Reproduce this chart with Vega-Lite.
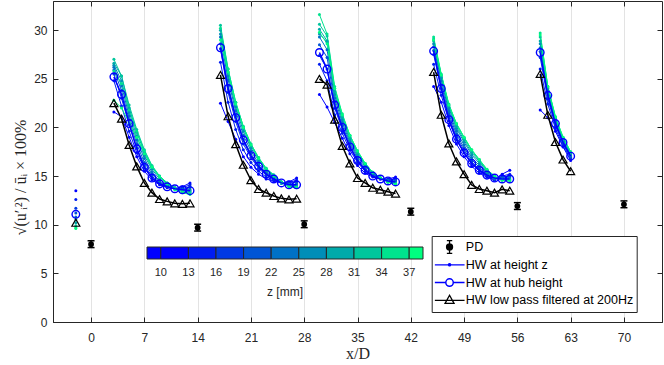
{
  "$schema": "https://vega.github.io/schema/vega-lite/v6.json",
  "width": 609,
  "height": 321,
  "autosize": {"type": "none"},
  "padding": {"left": 53, "top": 1, "right": 2, "bottom": 43},
  "config": {
    "view": {"stroke": "#262626", "strokeWidth": 1},
    "axis": {"domainColor": "#262626", "tickColor": "#262626", "labelColor": "#262626", "labelFont": "Liberation Sans", "labelFontSize": 12, "titleFont": "Liberation Serif", "titleFontWeight": "normal", "titleColor": "#262626", "tickSize": -5, "gridColor": "#e3e3e3", "gridWidth": 1},
    "legend": {"labelFont": "Liberation Sans", "titleFont": "Liberation Sans", "titleFontWeight": "normal", "labelColor": "#262626", "titleColor": "#262626"}
  },
  "datasets": {
    "zl": [
      {"z":10,"s":0,"x":-2,"v":13.5},
      {"z":10,"s":1,"x":3,"v":21.6},{"z":10,"s":1,"x":4,"v":21.1},{"z":10,"s":1,"x":5,"v":19.0},{"z":10,"s":1,"x":6,"v":17.0},{"z":10,"s":1,"x":7,"v":15.5},{"z":10,"s":1,"x":8,"v":14.6},{"z":10,"s":1,"x":9,"v":14.1},{"z":10,"s":1,"x":10,"v":13.8},{"z":10,"s":1,"x":11,"v":13.7},{"z":10,"s":1,"x":12,"v":13.9},{"z":10,"s":1,"x":13,"v":14.3},
      {"z":10,"s":2,"x":17,"v":22.5},{"z":10,"s":2,"x":18,"v":20.6},{"z":10,"s":2,"x":19,"v":18.8},{"z":10,"s":2,"x":20,"v":17.0},{"z":10,"s":2,"x":21,"v":15.9},{"z":10,"s":2,"x":22,"v":15.2},{"z":10,"s":2,"x":23,"v":14.7},{"z":10,"s":2,"x":24,"v":14.5},{"z":10,"s":2,"x":25,"v":14.3},{"z":10,"s":2,"x":26,"v":14.4},{"z":10,"s":2,"x":27,"v":14.8},
      {"z":10,"s":3,"x":30,"v":23.4},{"z":10,"s":3,"x":31,"v":22.1},{"z":10,"s":3,"x":32,"v":20.5},{"z":10,"s":3,"x":33,"v":18.9},{"z":10,"s":3,"x":34,"v":17.3},{"z":10,"s":3,"x":35,"v":16.1},{"z":10,"s":3,"x":36,"v":15.3},{"z":10,"s":3,"x":37,"v":14.9},{"z":10,"s":3,"x":38,"v":14.7},{"z":10,"s":3,"x":39,"v":14.7},{"z":10,"s":3,"x":40,"v":14.9},
      {"z":10,"s":4,"x":45,"v":24.2},{"z":10,"s":4,"x":46,"v":22.6},{"z":10,"s":4,"x":47,"v":20.2},{"z":10,"s":4,"x":48,"v":18.3},{"z":10,"s":4,"x":49,"v":17.0},{"z":10,"s":4,"x":50,"v":16.0},{"z":10,"s":4,"x":51,"v":15.3},{"z":10,"s":4,"x":52,"v":14.9},{"z":10,"s":4,"x":53,"v":14.6},{"z":10,"s":4,"x":54,"v":15.2},{"z":10,"s":4,"x":55,"v":15.6},
      {"z":10,"s":5,"x":59,"v":21.8},{"z":10,"s":5,"x":60,"v":21.0},{"z":10,"s":5,"x":61,"v":19.6},{"z":10,"s":5,"x":62,"v":18.0},{"z":10,"s":5,"x":63,"v":16.6},

      {"z":13,"s":0,"x":-2,"v":12.6},
      {"z":13,"s":1,"x":3,"v":24.8},{"z":13,"s":1,"x":4,"v":22.2},{"z":13,"s":1,"x":5,"v":19.6},{"z":13,"s":1,"x":6,"v":17.4},{"z":13,"s":1,"x":7,"v":15.8},{"z":13,"s":1,"x":8,"v":14.8},{"z":13,"s":1,"x":9,"v":14.2},{"z":13,"s":1,"x":10,"v":13.9},{"z":13,"s":1,"x":11,"v":13.7},{"z":13,"s":1,"x":12,"v":13.8},{"z":13,"s":1,"x":13,"v":14.1},
      {"z":13,"s":2,"x":17,"v":26.7},{"z":13,"s":2,"x":18,"v":22.6},{"z":13,"s":2,"x":19,"v":19.8},{"z":13,"s":2,"x":20,"v":17.7},{"z":13,"s":2,"x":21,"v":16.4},{"z":13,"s":2,"x":22,"v":15.5},{"z":13,"s":2,"x":23,"v":14.9},{"z":13,"s":2,"x":24,"v":14.6},{"z":13,"s":2,"x":25,"v":14.3},{"z":13,"s":2,"x":26,"v":14.3},{"z":13,"s":2,"x":27,"v":14.6},
      {"z":13,"s":3,"x":30,"v":26.5},{"z":13,"s":3,"x":31,"v":24.8},{"z":13,"s":3,"x":32,"v":21.3},{"z":13,"s":3,"x":33,"v":19.4},{"z":13,"s":3,"x":34,"v":17.7},{"z":13,"s":3,"x":35,"v":16.4},{"z":13,"s":3,"x":36,"v":15.5},{"z":13,"s":3,"x":37,"v":15.0},{"z":13,"s":3,"x":38,"v":14.7},{"z":13,"s":3,"x":39,"v":14.6},{"z":13,"s":3,"x":40,"v":14.7},
      {"z":13,"s":4,"x":45,"v":26.5},{"z":13,"s":4,"x":46,"v":23.3},{"z":13,"s":4,"x":47,"v":20.7},{"z":13,"s":4,"x":48,"v":18.7},{"z":13,"s":4,"x":49,"v":17.4},{"z":13,"s":4,"x":50,"v":16.3},{"z":13,"s":4,"x":51,"v":15.5},{"z":13,"s":4,"x":52,"v":15.0},{"z":13,"s":4,"x":53,"v":14.6},{"z":13,"s":4,"x":54,"v":15.0},{"z":13,"s":4,"x":55,"v":15.2},
      {"z":13,"s":5,"x":59,"v":26.0},{"z":13,"s":5,"x":60,"v":22.4},{"z":13,"s":5,"x":61,"v":19.9},{"z":13,"s":5,"x":62,"v":18.1},{"z":13,"s":5,"x":63,"v":16.8},

      {"z":16,"s":0,"x":-2,"v":11.7},
      {"z":16,"s":1,"x":3,"v":25.5},{"z":16,"s":1,"x":4,"v":23.0},{"z":16,"s":1,"x":5,"v":20.3},{"z":16,"s":1,"x":6,"v":17.9},{"z":16,"s":1,"x":7,"v":16.1},{"z":16,"s":1,"x":8,"v":15.0},{"z":16,"s":1,"x":9,"v":14.3},{"z":16,"s":1,"x":10,"v":13.9},{"z":16,"s":1,"x":11,"v":13.7},{"z":16,"s":1,"x":12,"v":13.7},{"z":16,"s":1,"x":13,"v":13.9},
      {"z":16,"s":2,"x":17,"v":28.1},{"z":16,"s":2,"x":18,"v":23.6},{"z":16,"s":2,"x":19,"v":20.6},{"z":16,"s":2,"x":20,"v":18.3},{"z":16,"s":2,"x":21,"v":16.9},{"z":16,"s":2,"x":22,"v":15.8},{"z":16,"s":2,"x":23,"v":15.1},{"z":16,"s":2,"x":24,"v":14.7},{"z":16,"s":2,"x":25,"v":14.3},{"z":16,"s":2,"x":26,"v":14.2},{"z":16,"s":2,"x":27,"v":14.4},
      {"z":16,"s":3,"x":30,"v":27.4},{"z":16,"s":3,"x":31,"v":26.0},{"z":16,"s":3,"x":32,"v":22.0},{"z":16,"s":3,"x":33,"v":19.8},{"z":16,"s":3,"x":34,"v":18.0},{"z":16,"s":3,"x":35,"v":16.6},{"z":16,"s":3,"x":36,"v":15.7},{"z":16,"s":3,"x":37,"v":15.1},{"z":16,"s":3,"x":38,"v":14.8},{"z":16,"s":3,"x":39,"v":14.6},{"z":16,"s":3,"x":40,"v":14.6},
      {"z":16,"s":4,"x":45,"v":27.5},{"z":16,"s":4,"x":46,"v":24.0},{"z":16,"s":4,"x":47,"v":21.1},{"z":16,"s":4,"x":48,"v":19.0},{"z":16,"s":4,"x":49,"v":17.7},{"z":16,"s":4,"x":50,"v":16.5},{"z":16,"s":4,"x":51,"v":15.7},{"z":16,"s":4,"x":52,"v":15.1},{"z":16,"s":4,"x":53,"v":14.7},{"z":16,"s":4,"x":54,"v":14.9},{"z":16,"s":4,"x":55,"v":15.0},
      {"z":16,"s":5,"x":59,"v":27.2},{"z":16,"s":5,"x":60,"v":22.9},{"z":16,"s":5,"x":61,"v":20.2},{"z":16,"s":5,"x":62,"v":18.3},{"z":16,"s":5,"x":63,"v":16.9},

      {"z":19,"s":0,"x":-2,"v":11.2},
      {"z":19,"s":1,"x":3,"v":25.9},{"z":19,"s":1,"x":4,"v":23.8},{"z":19,"s":1,"x":5,"v":20.8},{"z":19,"s":1,"x":6,"v":18.3},{"z":19,"s":1,"x":7,"v":16.4},{"z":19,"s":1,"x":8,"v":15.2},{"z":19,"s":1,"x":9,"v":14.4},{"z":19,"s":1,"x":10,"v":13.9},{"z":19,"s":1,"x":11,"v":13.7},{"z":19,"s":1,"x":12,"v":13.6},{"z":19,"s":1,"x":13,"v":13.8},
      {"z":19,"s":2,"x":17,"v":28.6},{"z":19,"s":2,"x":18,"v":24.3},{"z":19,"s":2,"x":19,"v":21.2},{"z":19,"s":2,"x":20,"v":18.8},{"z":19,"s":2,"x":21,"v":17.3},{"z":19,"s":2,"x":22,"v":16.1},{"z":19,"s":2,"x":23,"v":15.3},{"z":19,"s":2,"x":24,"v":14.8},{"z":19,"s":2,"x":25,"v":14.3},{"z":19,"s":2,"x":26,"v":14.1},{"z":19,"s":2,"x":27,"v":14.2},
      {"z":19,"s":3,"x":30,"v":28.5},{"z":19,"s":3,"x":31,"v":27.2},{"z":19,"s":3,"x":32,"v":22.6},{"z":19,"s":3,"x":33,"v":20.2},{"z":19,"s":3,"x":34,"v":18.3},{"z":19,"s":3,"x":35,"v":16.8},{"z":19,"s":3,"x":36,"v":15.8},{"z":19,"s":3,"x":37,"v":15.2},{"z":19,"s":3,"x":38,"v":14.8},{"z":19,"s":3,"x":39,"v":14.6},{"z":19,"s":3,"x":40,"v":14.5},
      {"z":19,"s":4,"x":45,"v":27.9},{"z":19,"s":4,"x":46,"v":24.4},{"z":19,"s":4,"x":47,"v":21.4},{"z":19,"s":4,"x":48,"v":19.3},{"z":19,"s":4,"x":49,"v":17.9},{"z":19,"s":4,"x":50,"v":16.7},{"z":19,"s":4,"x":51,"v":15.9},{"z":19,"s":4,"x":52,"v":15.2},{"z":19,"s":4,"x":53,"v":14.7},{"z":19,"s":4,"x":54,"v":14.8},{"z":19,"s":4,"x":55,"v":14.9},
      {"z":19,"s":5,"x":59,"v":27.8},{"z":19,"s":5,"x":60,"v":23.3},{"z":19,"s":5,"x":61,"v":20.4},{"z":19,"s":5,"x":62,"v":18.5},{"z":19,"s":5,"x":63,"v":17.0},

      {"z":22,"s":0,"x":-2,"v":10.8},
      {"z":22,"s":1,"x":3,"v":26.2},{"z":22,"s":1,"x":4,"v":24.3},{"z":22,"s":1,"x":5,"v":21.2},{"z":22,"s":1,"x":6,"v":18.7},{"z":22,"s":1,"x":7,"v":16.8},{"z":22,"s":1,"x":8,"v":15.4},{"z":22,"s":1,"x":9,"v":14.5},{"z":22,"s":1,"x":10,"v":14.0},{"z":22,"s":1,"x":11,"v":13.7},{"z":22,"s":1,"x":12,"v":13.6},{"z":22,"s":1,"x":13,"v":13.6},
      {"z":22,"s":2,"x":17,"v":29.3},{"z":22,"s":2,"x":18,"v":24.9},{"z":22,"s":2,"x":19,"v":21.7},{"z":22,"s":2,"x":20,"v":19.2},{"z":22,"s":2,"x":21,"v":17.6},{"z":22,"s":2,"x":22,"v":16.3},{"z":22,"s":2,"x":23,"v":15.4},{"z":22,"s":2,"x":24,"v":14.9},{"z":22,"s":2,"x":25,"v":14.4},{"z":22,"s":2,"x":26,"v":14.1},{"z":22,"s":2,"x":27,"v":14.1},
      {"z":22,"s":3,"x":30,"v":29.3},{"z":22,"s":3,"x":31,"v":28.0},{"z":22,"s":3,"x":32,"v":23.0},{"z":22,"s":3,"x":33,"v":20.5},{"z":22,"s":3,"x":34,"v":18.5},{"z":22,"s":3,"x":35,"v":17.0},{"z":22,"s":3,"x":36,"v":16.0},{"z":22,"s":3,"x":37,"v":15.3},{"z":22,"s":3,"x":38,"v":14.8},{"z":22,"s":3,"x":39,"v":14.5},{"z":22,"s":3,"x":40,"v":14.4},
      {"z":22,"s":4,"x":45,"v":28.3},{"z":22,"s":4,"x":46,"v":24.8},{"z":22,"s":4,"x":47,"v":21.7},{"z":22,"s":4,"x":48,"v":19.6},{"z":22,"s":4,"x":49,"v":18.2},{"z":22,"s":4,"x":50,"v":16.9},{"z":22,"s":4,"x":51,"v":16.1},{"z":22,"s":4,"x":52,"v":15.3},{"z":22,"s":4,"x":53,"v":14.8},{"z":22,"s":4,"x":54,"v":14.7},{"z":22,"s":4,"x":55,"v":14.8},
      {"z":22,"s":5,"x":59,"v":28.2},{"z":22,"s":5,"x":60,"v":23.6},{"z":22,"s":5,"x":61,"v":20.6},{"z":22,"s":5,"x":62,"v":18.6},{"z":22,"s":5,"x":63,"v":17.1},

      {"z":25,"s":0,"x":-2,"v":10.5},
      {"z":25,"s":1,"x":3,"v":26.4},{"z":25,"s":1,"x":4,"v":24.8},{"z":25,"s":1,"x":5,"v":21.6},{"z":25,"s":1,"x":6,"v":19.1},{"z":25,"s":1,"x":7,"v":17.1},{"z":25,"s":1,"x":8,"v":15.7},{"z":25,"s":1,"x":9,"v":14.7},{"z":25,"s":1,"x":10,"v":14.1},{"z":25,"s":1,"x":11,"v":13.8},{"z":25,"s":1,"x":12,"v":13.5},{"z":25,"s":1,"x":13,"v":13.5},
      {"z":25,"s":2,"x":17,"v":29.6},{"z":25,"s":2,"x":18,"v":25.3},{"z":25,"s":2,"x":19,"v":22.1},{"z":25,"s":2,"x":20,"v":19.6},{"z":25,"s":2,"x":21,"v":17.9},{"z":25,"s":2,"x":22,"v":16.6},{"z":25,"s":2,"x":23,"v":15.6},{"z":25,"s":2,"x":24,"v":15.0},{"z":25,"s":2,"x":25,"v":14.4},{"z":25,"s":2,"x":26,"v":14.1},{"z":25,"s":2,"x":27,"v":14.0},
      {"z":25,"s":3,"x":30,"v":29.6},{"z":25,"s":3,"x":31,"v":28.8},{"z":25,"s":3,"x":32,"v":23.4},{"z":25,"s":3,"x":33,"v":20.8},{"z":25,"s":3,"x":34,"v":18.7},{"z":25,"s":3,"x":35,"v":17.2},{"z":25,"s":3,"x":36,"v":16.1},{"z":25,"s":3,"x":37,"v":15.3},{"z":25,"s":3,"x":38,"v":14.8},{"z":25,"s":3,"x":39,"v":14.5},{"z":25,"s":3,"x":40,"v":14.3},
      {"z":25,"s":4,"x":45,"v":28.6},{"z":25,"s":4,"x":46,"v":25.1},{"z":25,"s":4,"x":47,"v":22.0},{"z":25,"s":4,"x":48,"v":19.9},{"z":25,"s":4,"x":49,"v":18.5},{"z":25,"s":4,"x":50,"v":17.2},{"z":25,"s":4,"x":51,"v":16.3},{"z":25,"s":4,"x":52,"v":15.4},{"z":25,"s":4,"x":53,"v":14.8},{"z":25,"s":4,"x":54,"v":14.7},{"z":25,"s":4,"x":55,"v":14.7},
      {"z":25,"s":5,"x":59,"v":28.6},{"z":25,"s":5,"x":60,"v":23.8},{"z":25,"s":5,"x":61,"v":20.8},{"z":25,"s":5,"x":62,"v":18.7},{"z":25,"s":5,"x":63,"v":17.2},

      {"z":28,"s":0,"x":-2,"v":10.2},
      {"z":28,"s":1,"x":3,"v":26.6},{"z":28,"s":1,"x":4,"v":25.3},{"z":28,"s":1,"x":5,"v":22.0},{"z":28,"s":1,"x":6,"v":19.5},{"z":28,"s":1,"x":7,"v":17.4},{"z":28,"s":1,"x":8,"v":15.9},{"z":28,"s":1,"x":9,"v":14.9},{"z":28,"s":1,"x":10,"v":14.2},{"z":28,"s":1,"x":11,"v":13.8},{"z":28,"s":1,"x":12,"v":13.5},{"z":28,"s":1,"x":13,"v":13.4},
      {"z":28,"s":2,"x":17,"v":30.0},{"z":28,"s":2,"x":18,"v":25.7},{"z":28,"s":2,"x":19,"v":22.4},{"z":28,"s":2,"x":20,"v":19.9},{"z":28,"s":2,"x":21,"v":18.1},{"z":28,"s":2,"x":22,"v":16.8},{"z":28,"s":2,"x":23,"v":15.7},{"z":28,"s":2,"x":24,"v":15.1},{"z":28,"s":2,"x":25,"v":14.4},{"z":28,"s":2,"x":26,"v":14.0},{"z":28,"s":2,"x":27,"v":13.9},
      {"z":28,"s":3,"x":30,"v":30.1},{"z":28,"s":3,"x":31,"v":28.9},{"z":28,"s":3,"x":32,"v":23.7},{"z":28,"s":3,"x":33,"v":21.0},{"z":28,"s":3,"x":34,"v":18.9},{"z":28,"s":3,"x":35,"v":17.4},{"z":28,"s":3,"x":36,"v":16.2},{"z":28,"s":3,"x":37,"v":15.4},{"z":28,"s":3,"x":38,"v":14.8},{"z":28,"s":3,"x":39,"v":14.4},{"z":28,"s":3,"x":40,"v":14.25},
      {"z":28,"s":4,"x":45,"v":28.9},{"z":28,"s":4,"x":46,"v":25.3},{"z":28,"s":4,"x":47,"v":22.2},{"z":28,"s":4,"x":48,"v":20.1},{"z":28,"s":4,"x":49,"v":18.7},{"z":28,"s":4,"x":50,"v":17.4},{"z":28,"s":4,"x":51,"v":16.5},{"z":28,"s":4,"x":52,"v":15.5},{"z":28,"s":4,"x":53,"v":14.9},{"z":28,"s":4,"x":54,"v":14.6},{"z":28,"s":4,"x":55,"v":14.6},
      {"z":28,"s":5,"x":59,"v":28.9},{"z":28,"s":5,"x":60,"v":24.0},{"z":28,"s":5,"x":61,"v":20.9},{"z":28,"s":5,"x":62,"v":18.8},{"z":28,"s":5,"x":63,"v":17.3},

      {"z":31,"s":0,"x":-2,"v":9.9},
      {"z":31,"s":1,"x":3,"v":27.0},{"z":31,"s":1,"x":4,"v":25.3},{"z":31,"s":1,"x":5,"v":22.3},{"z":31,"s":1,"x":6,"v":19.8},{"z":31,"s":1,"x":7,"v":17.7},{"z":31,"s":1,"x":8,"v":16.1},{"z":31,"s":1,"x":9,"v":15.0},{"z":31,"s":1,"x":10,"v":14.3},{"z":31,"s":1,"x":11,"v":13.8},{"z":31,"s":1,"x":12,"v":13.5},{"z":31,"s":1,"x":13,"v":13.3},
      {"z":31,"s":2,"x":17,"v":30.5},{"z":31,"s":2,"x":18,"v":26.0},{"z":31,"s":2,"x":19,"v":22.6},{"z":31,"s":2,"x":20,"v":20.1},{"z":31,"s":2,"x":21,"v":18.3},{"z":31,"s":2,"x":22,"v":16.9},{"z":31,"s":2,"x":23,"v":15.8},{"z":31,"s":2,"x":24,"v":15.1},{"z":31,"s":2,"x":25,"v":14.4},{"z":31,"s":2,"x":26,"v":14.0},{"z":31,"s":2,"x":27,"v":13.9},
      {"z":31,"s":3,"x":30,"v":30.6},{"z":31,"s":3,"x":31,"v":29.4},{"z":31,"s":3,"x":32,"v":24.0},{"z":31,"s":3,"x":33,"v":21.2},{"z":31,"s":3,"x":34,"v":19.1},{"z":31,"s":3,"x":35,"v":17.5},{"z":31,"s":3,"x":36,"v":16.3},{"z":31,"s":3,"x":37,"v":15.4},{"z":31,"s":3,"x":38,"v":14.8},{"z":31,"s":3,"x":39,"v":14.4},{"z":31,"s":3,"x":40,"v":14.2},
      {"z":31,"s":4,"x":45,"v":29.1},{"z":31,"s":4,"x":46,"v":25.4},{"z":31,"s":4,"x":47,"v":22.3},{"z":31,"s":4,"x":48,"v":20.3},{"z":31,"s":4,"x":49,"v":18.9},{"z":31,"s":4,"x":50,"v":17.6},{"z":31,"s":4,"x":51,"v":16.6},{"z":31,"s":4,"x":52,"v":15.6},{"z":31,"s":4,"x":53,"v":14.9},{"z":31,"s":4,"x":54,"v":14.6},{"z":31,"s":4,"x":55,"v":14.6},
      {"z":31,"s":5,"x":59,"v":29.3},{"z":31,"s":5,"x":60,"v":24.1},{"z":31,"s":5,"x":61,"v":21.0},{"z":31,"s":5,"x":62,"v":18.9},{"z":31,"s":5,"x":63,"v":17.4},

      {"z":34,"s":0,"x":-2,"v":9.7},
      {"z":34,"s":1,"x":3,"v":25.8},{"z":34,"s":1,"x":4,"v":24.5},{"z":34,"s":1,"x":5,"v":21.8},{"z":34,"s":1,"x":6,"v":19.6},{"z":34,"s":1,"x":7,"v":17.6},{"z":34,"s":1,"x":8,"v":16.0},{"z":34,"s":1,"x":9,"v":15.0},{"z":34,"s":1,"x":10,"v":14.3},{"z":34,"s":1,"x":11,"v":13.7},{"z":34,"s":1,"x":12,"v":13.4},{"z":34,"s":1,"x":13,"v":13.2},
      {"z":34,"s":2,"x":17,"v":30.2},{"z":34,"s":2,"x":18,"v":26.0},{"z":34,"s":2,"x":19,"v":22.6},{"z":34,"s":2,"x":20,"v":20.1},{"z":34,"s":2,"x":21,"v":18.3},{"z":34,"s":2,"x":22,"v":16.9},{"z":34,"s":2,"x":23,"v":15.8},{"z":34,"s":2,"x":24,"v":15.1},{"z":34,"s":2,"x":25,"v":14.4},{"z":34,"s":2,"x":26,"v":14.0},{"z":34,"s":2,"x":27,"v":13.85},
      {"z":34,"s":3,"x":30,"v":31.6},{"z":34,"s":3,"x":31,"v":29.6},{"z":34,"s":3,"x":32,"v":24.2},{"z":34,"s":3,"x":33,"v":21.4},{"z":34,"s":3,"x":34,"v":19.2},{"z":34,"s":3,"x":35,"v":17.6},{"z":34,"s":3,"x":36,"v":16.3},{"z":34,"s":3,"x":37,"v":15.4},{"z":34,"s":3,"x":38,"v":14.8},{"z":34,"s":3,"x":39,"v":14.4},{"z":34,"s":3,"x":40,"v":14.2},
      {"z":34,"s":4,"x":45,"v":29.3},{"z":34,"s":4,"x":46,"v":25.5},{"z":34,"s":4,"x":47,"v":22.4},{"z":34,"s":4,"x":48,"v":20.4},{"z":34,"s":4,"x":49,"v":19.0},{"z":34,"s":4,"x":50,"v":17.7},{"z":34,"s":4,"x":51,"v":16.7},{"z":34,"s":4,"x":52,"v":15.7},{"z":34,"s":4,"x":53,"v":15.0},{"z":34,"s":4,"x":54,"v":14.6},{"z":34,"s":4,"x":55,"v":14.6},
      {"z":34,"s":5,"x":59,"v":29.7},{"z":34,"s":5,"x":60,"v":24.2},{"z":34,"s":5,"x":61,"v":21.1},{"z":34,"s":5,"x":62,"v":19.0},{"z":34,"s":5,"x":63,"v":17.5},

      {"z":37,"s":0,"x":-2,"v":9.6},
      {"z":37,"s":1,"x":3,"v":22.8},{"z":37,"s":1,"x":4,"v":22.0},{"z":37,"s":1,"x":5,"v":20.5},{"z":37,"s":1,"x":6,"v":19.0},{"z":37,"s":1,"x":7,"v":17.3},{"z":37,"s":1,"x":8,"v":15.9},{"z":37,"s":1,"x":9,"v":14.9},{"z":37,"s":1,"x":10,"v":14.2},{"z":37,"s":1,"x":11,"v":13.6},{"z":37,"s":1,"x":12,"v":13.3},{"z":37,"s":1,"x":13,"v":13.1},
      {"z":37,"s":2,"x":17,"v":29.0},{"z":37,"s":2,"x":18,"v":25.7},{"z":37,"s":2,"x":19,"v":22.4},{"z":37,"s":2,"x":20,"v":20.0},{"z":37,"s":2,"x":21,"v":18.2},{"z":37,"s":2,"x":22,"v":16.8},{"z":37,"s":2,"x":23,"v":15.7},{"z":37,"s":2,"x":24,"v":15.0},{"z":37,"s":2,"x":25,"v":14.3},{"z":37,"s":2,"x":26,"v":13.9},{"z":37,"s":2,"x":27,"v":13.8},
      {"z":37,"s":3,"x":30,"v":29.8},{"z":37,"s":3,"x":31,"v":28.6},{"z":37,"s":3,"x":32,"v":24.0},{"z":37,"s":3,"x":33,"v":21.3},{"z":37,"s":3,"x":34,"v":19.2},{"z":37,"s":3,"x":35,"v":17.6},{"z":37,"s":3,"x":36,"v":16.3},{"z":37,"s":3,"x":37,"v":15.4},{"z":37,"s":3,"x":38,"v":14.8},{"z":37,"s":3,"x":39,"v":14.4},{"z":37,"s":3,"x":40,"v":14.2},
      {"z":37,"s":4,"x":45,"v":29.0},{"z":37,"s":4,"x":46,"v":25.4},{"z":37,"s":4,"x":47,"v":22.3},{"z":37,"s":4,"x":48,"v":20.4},{"z":37,"s":4,"x":49,"v":19.0},{"z":37,"s":4,"x":50,"v":17.7},{"z":37,"s":4,"x":51,"v":16.7},{"z":37,"s":4,"x":52,"v":15.7},{"z":37,"s":4,"x":53,"v":15.0},{"z":37,"s":4,"x":54,"v":14.6},{"z":37,"s":4,"x":55,"v":14.5},
      {"z":37,"s":5,"x":59,"v":29.5},{"z":37,"s":5,"x":60,"v":24.2},{"z":37,"s":5,"x":61,"v":21.1},{"z":37,"s":5,"x":62,"v":19.0},{"z":37,"s":5,"x":63,"v":17.5}
    ],
    "hub": [
      {"k":"HW at hub height","s":0,"x":-2,"v":11.07},
      {"k":"HW at hub height","s":1,"x":3,"v":25.2},{"k":"HW at hub height","s":1,"x":4,"v":23.4},{"k":"HW at hub height","s":1,"x":5,"v":20.4},{"k":"HW at hub height","s":1,"x":6,"v":17.8},{"k":"HW at hub height","s":1,"x":7,"v":15.9},{"k":"HW at hub height","s":1,"x":8,"v":14.8},{"k":"HW at hub height","s":1,"x":9,"v":14.2},{"k":"HW at hub height","s":1,"x":10,"v":13.9},{"k":"HW at hub height","s":1,"x":11,"v":13.7},{"k":"HW at hub height","s":1,"x":12,"v":13.6},{"k":"HW at hub height","s":1,"x":13,"v":13.5},
      {"k":"HW at hub height","s":2,"x":17,"v":28.2},{"k":"HW at hub height","s":2,"x":18,"v":24.0},{"k":"HW at hub height","s":2,"x":19,"v":21.0},{"k":"HW at hub height","s":2,"x":20,"v":18.7},{"k":"HW at hub height","s":2,"x":21,"v":17.1},{"k":"HW at hub height","s":2,"x":22,"v":16.0},{"k":"HW at hub height","s":2,"x":23,"v":15.2},{"k":"HW at hub height","s":2,"x":24,"v":14.7},{"k":"HW at hub height","s":2,"x":25,"v":14.3},{"k":"HW at hub height","s":2,"x":26,"v":14.1},{"k":"HW at hub height","s":2,"x":27,"v":14.1},
      {"k":"HW at hub height","s":3,"x":30,"v":27.7},{"k":"HW at hub height","s":3,"x":31,"v":26.0},{"k":"HW at hub height","s":3,"x":32,"v":22.3},{"k":"HW at hub height","s":3,"x":33,"v":20.0},{"k":"HW at hub height","s":3,"x":34,"v":18.0},{"k":"HW at hub height","s":3,"x":35,"v":16.6},{"k":"HW at hub height","s":3,"x":36,"v":15.6},{"k":"HW at hub height","s":3,"x":37,"v":15.0},{"k":"HW at hub height","s":3,"x":38,"v":14.7},{"k":"HW at hub height","s":3,"x":39,"v":14.5},{"k":"HW at hub height","s":3,"x":40,"v":14.4},
      {"k":"HW at hub height","s":4,"x":45,"v":27.85},{"k":"HW at hub height","s":4,"x":46,"v":24.0},{"k":"HW at hub height","s":4,"x":47,"v":20.8},{"k":"HW at hub height","s":4,"x":48,"v":18.8},{"k":"HW at hub height","s":4,"x":49,"v":17.4},{"k":"HW at hub height","s":4,"x":50,"v":16.3},{"k":"HW at hub height","s":4,"x":51,"v":15.6},{"k":"HW at hub height","s":4,"x":52,"v":15.1},{"k":"HW at hub height","s":4,"x":53,"v":14.8},{"k":"HW at hub height","s":4,"x":54,"v":14.7},{"k":"HW at hub height","s":4,"x":55,"v":14.7},
      {"k":"HW at hub height","s":5,"x":59,"v":27.7},{"k":"HW at hub height","s":5,"x":60,"v":23.3},{"k":"HW at hub height","s":5,"x":61,"v":20.4},{"k":"HW at hub height","s":5,"x":62,"v":18.45},{"k":"HW at hub height","s":5,"x":63,"v":17.05}
    ],
    "lp": [
      {"k":"HW low pass filtered at 200Hz","s":0,"x":-2,"v":10.2},
      {"k":"HW low pass filtered at 200Hz","s":1,"x":3,"v":22.5},{"k":"HW low pass filtered at 200Hz","s":1,"x":4,"v":20.9},{"k":"HW low pass filtered at 200Hz","s":1,"x":5,"v":18.2},{"k":"HW low pass filtered at 200Hz","s":1,"x":6,"v":16.0},{"k":"HW low pass filtered at 200Hz","s":1,"x":7,"v":14.3},{"k":"HW low pass filtered at 200Hz","s":1,"x":8,"v":13.3},{"k":"HW low pass filtered at 200Hz","s":1,"x":9,"v":12.64},{"k":"HW low pass filtered at 200Hz","s":1,"x":10,"v":12.4},{"k":"HW low pass filtered at 200Hz","s":1,"x":11,"v":12.2},{"k":"HW low pass filtered at 200Hz","s":1,"x":12,"v":12.15},{"k":"HW low pass filtered at 200Hz","s":1,"x":13,"v":12.2},
      {"k":"HW low pass filtered at 200Hz","s":2,"x":17,"v":25.4},{"k":"HW low pass filtered at 200Hz","s":2,"x":18,"v":21.15},{"k":"HW low pass filtered at 200Hz","s":2,"x":19,"v":18.28},{"k":"HW low pass filtered at 200Hz","s":2,"x":20,"v":16.16},{"k":"HW low pass filtered at 200Hz","s":2,"x":21,"v":14.59},{"k":"HW low pass filtered at 200Hz","s":2,"x":22,"v":13.67},{"k":"HW low pass filtered at 200Hz","s":2,"x":23,"v":13.29},{"k":"HW low pass filtered at 200Hz","s":2,"x":24,"v":12.95},{"k":"HW low pass filtered at 200Hz","s":2,"x":25,"v":12.71},{"k":"HW low pass filtered at 200Hz","s":2,"x":26,"v":12.61},{"k":"HW low pass filtered at 200Hz","s":2,"x":27,"v":12.67},
      {"k":"HW low pass filtered at 200Hz","s":3,"x":30,"v":25.0},{"k":"HW low pass filtered at 200Hz","s":3,"x":31,"v":24.4},{"k":"HW low pass filtered at 200Hz","s":3,"x":32,"v":20.8},{"k":"HW low pass filtered at 200Hz","s":3,"x":33,"v":18.1},{"k":"HW low pass filtered at 200Hz","s":3,"x":34,"v":16.3},{"k":"HW low pass filtered at 200Hz","s":3,"x":35,"v":14.8},{"k":"HW low pass filtered at 200Hz","s":3,"x":36,"v":14.3},{"k":"HW low pass filtered at 200Hz","s":3,"x":37,"v":13.8},{"k":"HW low pass filtered at 200Hz","s":3,"x":38,"v":13.6},{"k":"HW low pass filtered at 200Hz","s":3,"x":39,"v":13.4},{"k":"HW low pass filtered at 200Hz","s":3,"x":40,"v":13.2},
      {"k":"HW low pass filtered at 200Hz","s":4,"x":45,"v":25.7},{"k":"HW low pass filtered at 200Hz","s":4,"x":46,"v":21.3},{"k":"HW low pass filtered at 200Hz","s":4,"x":47,"v":18.35},{"k":"HW low pass filtered at 200Hz","s":4,"x":48,"v":16.5},{"k":"HW low pass filtered at 200Hz","s":4,"x":49,"v":15.2},{"k":"HW low pass filtered at 200Hz","s":4,"x":50,"v":14.1},{"k":"HW low pass filtered at 200Hz","s":4,"x":51,"v":13.67},{"k":"HW low pass filtered at 200Hz","s":4,"x":52,"v":13.5},{"k":"HW low pass filtered at 200Hz","s":4,"x":53,"v":13.3},{"k":"HW low pass filtered at 200Hz","s":4,"x":54,"v":13.64},{"k":"HW low pass filtered at 200Hz","s":4,"x":55,"v":13.5},
      {"k":"HW low pass filtered at 200Hz","s":5,"x":59,"v":25.5},{"k":"HW low pass filtered at 200Hz","s":5,"x":60,"v":21.3},{"k":"HW low pass filtered at 200Hz","s":5,"x":61,"v":18.5},{"k":"HW low pass filtered at 200Hz","s":5,"x":62,"v":16.7},{"k":"HW low pass filtered at 200Hz","s":5,"x":63,"v":15.5}
    ],
    "pd": [
      {"k":"PD","x":0,"v":8.0,"lo":7.65,"hi":8.35},
      {"k":"PD","x":14,"v":9.7,"lo":9.35,"hi":10.05},
      {"k":"PD","x":28,"v":10.05,"lo":9.7,"hi":10.4},
      {"k":"PD","x":42,"v":11.34,"lo":10.99,"hi":11.69},
      {"k":"PD","x":56,"v":11.92,"lo":11.57,"hi":12.27},
      {"k":"PD","x":70,"v":12.1,"lo":11.75,"hi":12.45}
    ]
  },
  "layer": [
    {
      "data": {"name": "zl"},
      "encoding": {
        "x": {"field": "x", "type": "quantitative", "scale": {"domain": [-5, 75], "nice": false, "zero": false},
              "axis": {"values": [0,7,14,21,28,35,42,49,56,63,70], "grid": true, "title": "x/D", "titleFontSize": 16, "labelPadding": 15, "titlePadding": 2}},
        "y": {"field": "v", "type": "quantitative", "scale": {"domain": [0, 33], "nice": false, "zero": false},
              "axis": {"values": [0,5,10,15,20,25,30], "grid": false, "title": "√(u′ᵢ²) / ūᵢ × 100%", "titleFontSize": 16, "labelPadding": 11, "titlePadding": 5, "titleY": 176}},
        "color": {"field": "z", "type": "quantitative",
                  "scale": {"type": "quantize", "domain": [8.5, 38.5], "range": ["#0000ff","#001cf1","#0039e3","#0055d5","#0071c6","#008eb8","#00aaaa","#00c69c","#00e38e","#00ff80"]},
                  "legend": {"type": "gradient", "orient": "none", "direction": "horizontal", "legendX": 94, "legendY": 246,
                             "gradientLength": 276, "gradientThickness": 12, "gradientStrokeColor": "#262626", "gradientStrokeWidth": 1,
                             "values": [8.5,10,13,16,19,22,25,28,31,34,37], "labelOverlap": false, "labelExpr": "datum.value < 9 ? '' : datum.label",
                             "title": "z [mm]", "titleOrient": "bottom", "titleAnchor": "middle", "titleFontSize": 12, "titlePadding": 9,
                             "labelFontSize": 11, "labelOffset": 8}}
      },
      "layer": [
        {"mark": {"type": "line", "strokeWidth": 1}, "encoding": {"detail": [{"field": "z"}, {"field": "s"}]}},
        {"mark": {"type": "circle", "size": 9, "opacity": 1}}
      ]
    },
    {
      "encoding": {
        "x": {"field": "x", "type": "quantitative", "axis": {"orient": "top", "values": [0,7,14,21,28,35,42,49,56,63,70], "labels": false, "domain": false, "grid": false, "title": null}},
        "y": {"field": "v", "type": "quantitative", "axis": {"orient": "right", "values": [0,5,10,15,20,25,30], "labels": false, "domain": false, "grid": false, "title": null}},
        "color": {"field": "k", "type": "nominal",
                  "scale": {"domain": ["PD", "HW at height z", "HW at hub height", "HW low pass filtered at 200Hz"], "range": ["black", "blue", "blue", "black"]},
                  "legend": {"orient": "none", "legendX": 378.7, "legendY": 235, "title": null, "padding": 3,
                             "strokeColor": "#262626", "fillColor": "white",
                             "labelFontSize": 12.5, "labelColor": "black", "labelLimit": 0, "symbolSize": 900, "symbolOffset": 8.6, "labelOffset": 10,
                             "clipHeight": 16, "rowPadding": 1.8,
                             "encode": {"symbols": {"update": {
                               "shape": {"signal": "datum.value === 'PD' ? 'M0,-0.42V0.42M-0.18,-0.42H0.18M-0.18,0.42H0.18M0.2,0A0.2,0.2,0,1,1,-0.2,0A0.2,0.2,0,1,1,0.2,0M0.12,0A0.12,0.12,0,1,1,-0.12,0A0.12,0.12,0,1,1,0.12,0M0.05,0A0.05,0.05,0,1,1,-0.05,0A0.05,0.05,0,1,1,0.05,0' : datum.value === 'HW at height z' ? 'M-1,0H1M0.08,0A0.08,0.08,0,1,1,-0.08,0A0.08,0.08,0,1,1,0.08,0' : datum.value === 'HW at hub height' ? 'M-1,0H-0.25M0.25,0H1M0.25,0A0.25,0.25,0,1,1,-0.25,0A0.25,0.25,0,1,1,0.25,0' : 'M-1,0H1M0,-0.34L0.3,0.2H-0.3Z'"},
                               "fill": {"signal": "datum.value === 'PD' ? 'black' : datum.value === 'HW at height z' ? 'blue' : 'white'"},
                               "stroke": {"signal": "datum.value === 'PD' || datum.value === 'HW low pass filtered at 200Hz' ? 'black' : 'blue'"},
                               "strokeWidth": {"signal": "datum.value === 'HW at height z' ? 1.2 : datum.value === 'HW at hub height' ? 1.5 : 1.3"},
                               "size": {"value": 900},
                               "opacity": {"value": 1}
                             }}}}}
      },
      "layer": [
        {"data": {"name": "hub"}, "mark": {"type": "line", "strokeWidth": 1.5}, "encoding": {"detail": {"field": "s"}}},
        {"data": {"name": "hub"}, "mark": {"type": "point", "shape": "circle", "filled": false, "size": 58, "strokeWidth": 1.4, "opacity": 1}},
        {"data": {"name": "lp"}, "mark": {"type": "line", "strokeWidth": 1.5}, "encoding": {"detail": {"field": "s"}}},
        {"data": {"name": "lp"}, "mark": {"type": "point", "shape": "triangle-up", "filled": false, "size": 64, "strokeWidth": 1.2, "opacity": 1}},
        {"data": {"name": "pd"}, "mark": {"type": "rule", "strokeWidth": 1.5}, "encoding": {"y": {"field": "lo", "type": "quantitative", "axis": {"orient": "right", "values": [0,5,10,15,20,25,30], "labels": false, "domain": false, "grid": false, "title": null}}, "y2": {"field": "hi"}}},
        {"data": {"name": "pd"}, "mark": {"type": "point", "shape": "stroke", "filled": false, "size": 49, "strokeWidth": 1.5, "opacity": 1}, "encoding": {"y": {"field": "lo", "type": "quantitative", "axis": {"orient": "right", "values": [0,5,10,15,20,25,30], "labels": false, "domain": false, "grid": false, "title": null}}}},
        {"data": {"name": "pd"}, "mark": {"type": "point", "shape": "stroke", "filled": false, "size": 49, "strokeWidth": 1.5, "opacity": 1}, "encoding": {"y": {"field": "hi", "type": "quantitative", "axis": {"orient": "right", "values": [0,5,10,15,20,25,30], "labels": false, "domain": false, "grid": false, "title": null}}}},
        {"data": {"name": "pd"}, "mark": {"type": "point", "shape": "circle", "filled": false, "size": 8, "strokeWidth": 3, "opacity": 1}}
      ]
    }
  ],
  "resolve": {"scale": {"color": "independent"}, "axis": {"x": "independent", "y": "independent"}}
}
